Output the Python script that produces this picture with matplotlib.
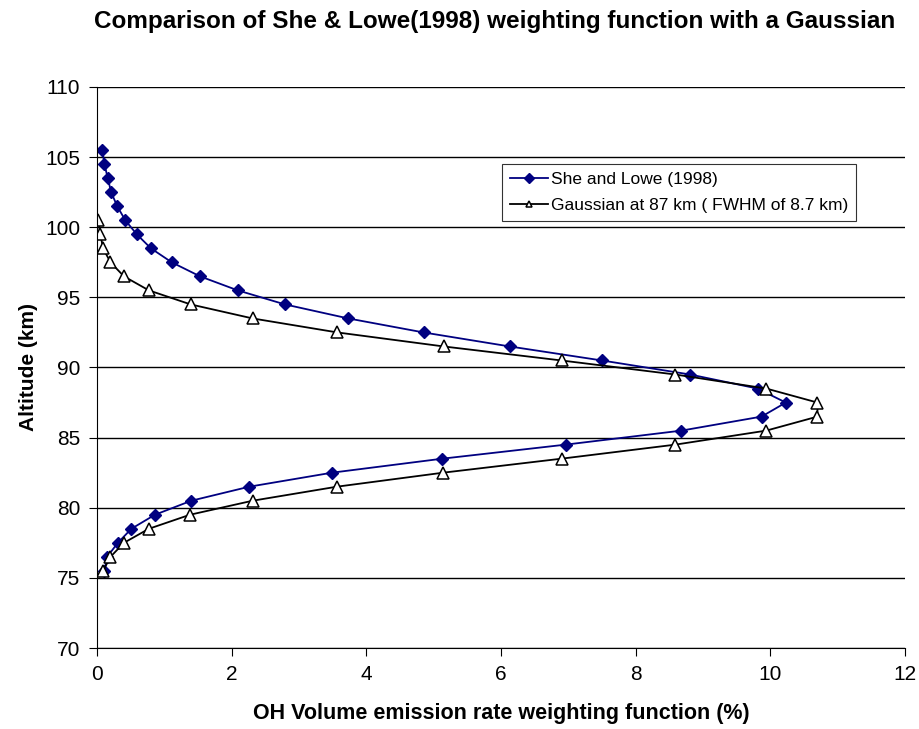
import matplotlib
matplotlib.use("Agg")
import matplotlib.pyplot as plt

plt.rcParams["font.family"] = ["Liberation Sans", "DejaVu Sans"]

# She & Lowe (1998) weighting function, altitudes 105.5 .. 75.5 km
she_alt = [105.5, 104.5, 103.5, 102.5, 101.5, 100.5, 99.5, 98.5, 97.5, 96.5,
           95.5, 94.5, 93.5, 92.5, 91.5, 90.5, 89.5, 88.5, 87.5, 86.5,
           85.5, 84.5, 83.5, 82.5, 81.5, 80.5, 79.5, 78.5, 77.5, 76.5, 75.5]
she_val = [0.08, 0.11, 0.16, 0.21, 0.30, 0.42, 0.59, 0.80, 1.11, 1.53,
           2.09, 2.79, 3.73, 4.85, 6.13, 7.50, 8.81, 9.81, 10.23, 9.87,
           8.68, 6.96, 5.13, 3.49, 2.26, 1.40, 0.86, 0.51, 0.31, 0.15, 0.11]

# Gaussian at 87 km, altitudes 100.5 .. 75.5 km
gau_alt = [100.5, 99.5, 98.5, 97.5, 96.5, 95.5, 94.5, 93.5, 92.5, 91.5,
           90.5, 89.5, 88.5, 87.5, 86.5, 85.5, 84.5, 83.5, 82.5, 81.5,
           80.5, 79.5, 78.5, 77.5, 76.5, 75.5]
gau_val = [0.02, 0.05, 0.09, 0.20, 0.40, 0.77, 1.39, 2.31, 3.57, 5.15,
           6.90, 8.59, 9.94, 10.70, 10.70, 9.94, 8.59, 6.90, 5.14, 3.56,
           2.31, 1.38, 0.77, 0.40, 0.20, 0.09]

fig = plt.figure(figsize=(9.19, 7.29), dpi=100)
ax = fig.add_axes([97 / 919, 1 - 648 / 729, 808 / 919, 561 / 729])

ax.plot(she_val, she_alt, color="#000080", lw=1.3, marker="D", ms=6.5,
        mfc="#000080", mec="#000080", label="She and Lowe (1998)")
ax.plot(gau_val, gau_alt, color="black", lw=1.3, marker="^", ms=8.5,
        mfc="white", mec="black", mew=1.1, label="Gaussian at 87 km ( FWHM of 8.7 km)")

ax.set_xlim(0, 12)
ax.set_ylim(70, 110)
ax.set_xticks(range(0, 13, 2))
ax.set_yticks(range(70, 111, 5))
ax.yaxis.grid(True, color="black", lw=1.0)
ax.set_axisbelow(True)
for s in ("top", "right"):
    ax.spines[s].set_visible(False)
ax.tick_params(direction="out", length=6, labelsize=15, pad=6)

ax.set_xlabel("OH Volume emission rate weighting function (%)",
              fontsize=15.5, fontweight="bold", labelpad=14)
ax.set_ylabel("Altitude (km)", fontsize=15, fontweight="bold", labelpad=5)
fig.text(0.538, 0.97, "Comparison of She & Lowe(1998) weighting function with a Gaussian",
         ha="center", va="center", fontsize=17.5, fontweight="bold")

leg = ax.legend(loc="upper left", bbox_to_anchor=(0.501, 0.862), fontsize=12.5,
                frameon=True, fancybox=False, edgecolor="black",
                borderpad=0.45, handlelength=2.2, handletextpad=0.2,
                labelspacing=0.6, borderaxespad=0)
leg.get_frame().set_linewidth(0.8)
for h in leg.legend_handles:
    h.set_markersize(5)

fig.savefig("out.png", dpi=100)
